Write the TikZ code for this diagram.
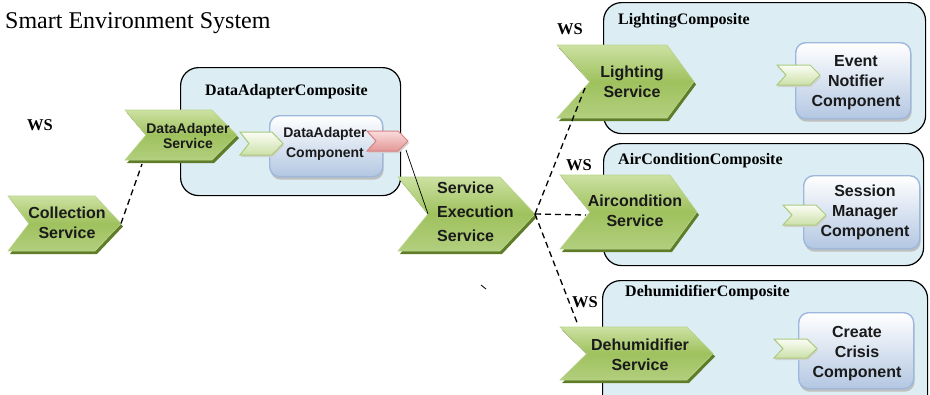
\documentclass[tikz,border=0pt]{standalone}
\usepackage{fontspec}
\setmainfont{Liberation Serif}
\newfontfamily\lsans{Liberation Sans}
\usetikzlibrary{calc}

\definecolor{compfill}{HTML}{DCEEF4}
\definecolor{compblue}{HTML}{B3C7E2}
\definecolor{compedge}{HTML}{9DB8DC}
\definecolor{chevtop}{HTML}{CCE1A2}
\definecolor{chevmid}{HTML}{9FC15D}
\definecolor{chevbot}{HTML}{B2CF7E}
\definecolor{chevedge}{HTML}{B9D48C}
\definecolor{chevshadow}{HTML}{5F7C28}
\definecolor{porttop}{HTML}{FBFDF6}
\definecolor{portbot}{HTML}{CCE0A8}
\definecolor{portedge}{HTML}{ABCB7C}
\definecolor{reftop}{HTML}{FADCDC}
\definecolor{refbot}{HTML}{E39696}
\definecolor{refedge}{HTML}{D98282}
\definecolor{ink}{HTML}{1A1A1A}

% chevron: name, left x, top y, tip x, bottom y, notch depth, tip depth, look
\newcommand\chev[8]{%
  \pgfmathsetmacro\chcy{(#3+#5)/2}%
  \pgfmathsetmacro\chxn{#2+#6}%
  \pgfmathsetmacro\chxs{#4-#7}%
  \path[#8] (#2,#3) -- (\chxs,#3) -- (#4,\chcy) -- (\chxs,#5) -- (#2,#5) -- (\chxn,\chcy) -- cycle;
  \coordinate (#1-tip) at (#4,\chcy);
  \coordinate (#1-notch) at (\chxn,\chcy);
}

\begin{document}
\begin{tikzpicture}[x=1pt,y=-1pt,
  composite/.style={draw=black, line width=1.2pt, fill=compfill, rounded corners=18pt,
    inner sep=0pt, anchor=north west},
  component/.style={draw=compedge, line width=1.4pt, top color=white, bottom color=compblue,
    rounded corners=10pt, inner sep=0pt, anchor=north west,
    preaction={fill=black!25, transform canvas={shift={(1pt,-3pt)}}}},
  bigchev/.style={top color=chevtop, bottom color=chevbot, middle color=chevmid,
    draw=chevedge, line width=0.6pt,
    preaction={fill=chevshadow, transform canvas={shift={(2pt,-3pt)}}}},
  portchev/.style={top color=porttop, bottom color=portbot, draw=portedge, line width=1pt,
    preaction={fill=black!18, transform canvas={shift={(1pt,-2pt)}}}},
  refchev/.style={top color=reftop, bottom color=refbot, draw=refedge, line width=1pt,
    preaction={fill=black!18, transform canvas={shift={(1pt,-2pt)}}}},
  svc/.style={font=\lsans\bfseries\fontsize{16}{20}\selectfont, align=center, text=ink, inner sep=0pt},
  svcsmall/.style={font=\lsans\bfseries\fontsize{14}{15}\selectfont, align=center, text=ink, inner sep=0pt},
  boxlabel/.style={font=\bfseries\fontsize{16}{19}\selectfont, anchor=west, inner sep=0pt},
  wslabel/.style={font=\bfseries\fontsize{16.5}{19}\selectfont, inner sep=0pt},
  dashwire/.style={draw=black, line width=1.3pt, dash pattern=on 6pt off 4pt},
  wire/.style={draw=black, line width=0.7pt}
]
\useasboundingbox (0,0) rectangle (930,394);
\clip (0,0) rectangle (930,394);

% title
\node[anchor=base west, font=\fontsize{24}{28}\selectfont, inner sep=0pt] (title) at (5,28) {Smart Environment System};

% composites
\node[composite, minimum width=220pt, minimum height=128pt] (dacomp) at (180,67) {};
\node[composite, minimum width=322pt, minimum height=131pt] (lightcomp) at (603,2) {};
\node[composite, minimum width=320pt, minimum height=122pt] (aircomp) at (603,143) {};
\node[composite, minimum width=325pt, minimum height=140pt] (dehumcomp) at (602,280) {};

\node[boxlabel] (dacomplabel) at (205,92) {DataAdapterComposite};
\node[boxlabel] (lightcomplabel) at (618,21) {LightingComposite};
\node[boxlabel] (aircomplabel) at (618,161) {AirConditionComposite};
\node[boxlabel] (dehumcomplabel) at (625,293) {DehumidifierComposite};

% components
\node[component, minimum width=113pt, minimum height=61pt] (dabox) at (269,115) {};
\node[component, minimum width=115pt, minimum height=76pt] (evbox) at (795,42) {};
\node[component, minimum width=116pt, minimum height=73pt] (ssbox) at (803,175) {};
\node[component, minimum width=115pt, minimum height=76pt] (crbox) at (798,312) {};

% ports on the components
\chev{daport}{240}{132}{283}{155}{9}{11}{portchev}
\chev{evport}{777}{65}{820}{85}{9}{10}{portchev}
\chev{ssport}{783}{205}{826}{225}{9}{10}{portchev}
\chev{crport}{774}{339}{817}{358}{9}{10}{portchev}
\chev{ref}{367}{131}{408}{151}{9}{10}{refchev}

\node[svcsmall, font=\lsans\bfseries\fontsize{14}{20}\selectfont] (datext) at (325,144) {DataAdapter\\Component};
\node[svc] (evtext) at (856,83) {Event\\Notifier\\Component};
\node[svc] (sstext) at (865,212) {Session\\Manager\\Component};
\node[svc] (crtext) at (857,354) {Create\\Crisis\\Component};

% services
\chev{coll}{8}{196}{121}{251}{21}{26}{bigchev}
\chev{das}{125}{110}{237}{160}{21}{25}{bigchev}
\chev{se}{398}{177}{535}{251}{30}{35}{bigchev}
\chev{light}{557}{45}{694}{118}{33}{27}{bigchev}
\chev{air}{560}{175}{697}{249}{30}{27}{bigchev}
\chev{dehum}{560}{327}{713}{380}{27}{26}{bigchev}

\node[svc] (colltext) at (67,223) {Collection\\Service};
\node[svcsmall] (dastext) at (188,136) {DataAdapter\\Service};
\node[svc, font=\lsans\bfseries\fontsize{16}{24}\selectfont, align=left, anchor=west] (setext) at (437,212) {Service\\Execution\\Service};
\node[svc] (lighttext) at (632,82) {Lighting\\Service};
\node[svc] (airtext) at (635,211) {Aircondition\\Service};
\node[svc] (dehumtext) at (640,355) {Dehumidifier\\Service};

% binding labels
\node[wslabel] (ws1) at (40,125) {WS};
\node[wslabel] (ws2) at (570,29) {WS};
\node[wslabel] (ws3) at (579,165) {WS};
\node[wslabel] (ws4) at (585,302) {WS};

% wires
\coordinate (das-foot) at (142,164);
\coordinate (ref-out) at (406,150);
\coordinate (light-in) at (585,88);
\coordinate (air-in) at (586,215);
\coordinate (dehum-in) at (578,325);

\draw[dashwire] (coll-tip) -- (das-foot);
\draw[wire] (ref-out) -- (se-notch);
\draw[dashwire] (se-tip) -- (light-in);
\draw[dashwire] (se-tip) -- (air-in);
\draw[dashwire] (se-tip) -- (dehum-in);

% small stray tick
\coordinate (tick-a) at (481,285);
\coordinate (tick-b) at (486,289);
\draw[wire, line width=0.8pt] (tick-a) -- (tick-b);
\end{tikzpicture}
\end{document}
